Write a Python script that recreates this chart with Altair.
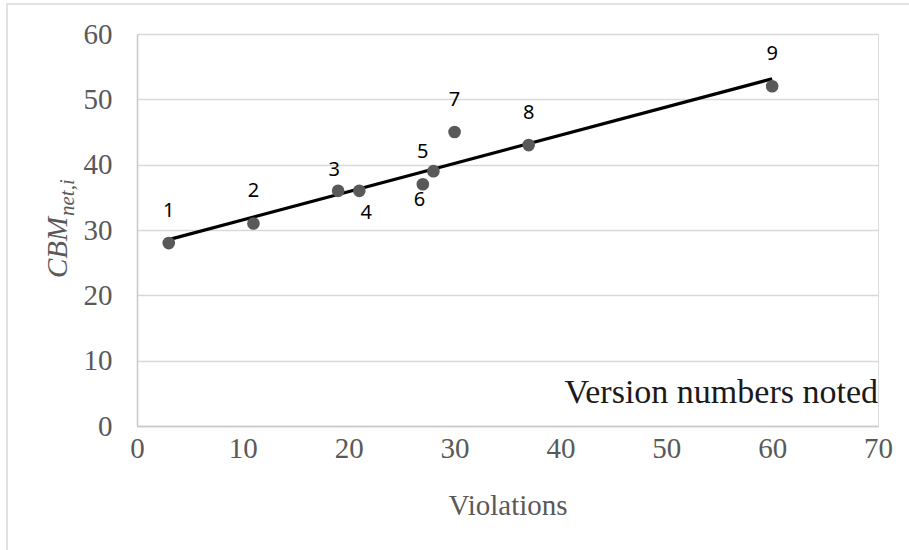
import altair as alt
import pandas as pd

# Version history: violations counted against the net CBM score
versions = [1, 2, 3, 4, 5, 6, 7, 8, 9]
violations = [3, 11, 19, 21, 27, 28, 30, 37, 60]
cbm_net = [28, 31, 36, 36, 37, 39, 45, 43, 52]
# which side of its point each version number is written on
label_side = ["above", "above", "above-close", "below-right", "above",
              "below-left", "above", "above", "above"]

x_ticks = [0, 10, 20, 30, 40, 50, 60, 70]
y_ticks = [0, 10, 20, 30, 40, 50, 60]

W, H = 741, 392
GREY_TEXT = "#595959"
SERIF = "Liberation Serif"

df = pd.DataFrame({
    "version": versions,
    "violations": violations,
    "cbm": cbm_net,
    "side": label_side,
})

x_enc = alt.X(
    "violations:Q",
    scale=alt.Scale(domain=[0, 70], nice=False),
    axis=alt.Axis(
        values=x_ticks, title="Violations", grid=False, ticks=False,
        domainColor="#c8c8c8", domainWidth=1.5, labelFlush=False,
        labelFont=SERIF, labelFontSize=29, labelColor=GREY_TEXT, labelPadding=8,
        titleFont=SERIF, titleFontSize=29, titleFontWeight="normal",
        titleColor=GREY_TEXT, titlePadding=28,
    ),
)
y_enc = alt.Y(
    "cbm:Q",
    scale=alt.Scale(domain=[0, 60], nice=False),
    axis=alt.Axis(
        values=y_ticks, title=None, grid=True, gridColor="#d9d9d9", gridWidth=1.5,
        ticks=False, domainColor="#c8c8c8", domainWidth=1.5, labelFlush=False,
        labelFont=SERIF, labelFontSize=29, labelColor=GREY_TEXT, labelPadding=25,
    ),
)

base = alt.Chart(df)

# thin frame around the whole chart
frame = alt.Chart(alt.Data(values=[{}])).mark_rect(
    fill=None, stroke="#d9d9d9", strokeWidth=1.5
).encode(
    x=alt.value(-130), x2=alt.value(W + 200),
    y=alt.value(-30), y2=alt.value(H + 300),
)

trend = base.mark_line(color="black", strokeWidth=3.2).transform_regression(
    "violations", "cbm"
).encode(x=x_enc, y=y_enc)

points = base.mark_circle(size=160, color=GREY_TEXT, opacity=1).encode(
    x=x_enc, y=y_enc
)

offsets = {
    "above": (0, -32),
    "above-close": (-4, -21),
    "below-right": (7, 22),
    "below-left": (-14, 29),
}
labels = [
    base.transform_filter(alt.datum.side == side).mark_text(
        font="Noto Sans", fontSize=20, color="black",
        baseline="middle", align="center", dx=dx, dy=dy,
    ).encode(x="violations:Q", y="cbm:Q", text="version:N")
    for side, (dx, dy) in offsets.items()
]

note = alt.Chart(alt.Data(values=[{}])).mark_text(
    text="Version numbers noted", font=SERIF, fontSize=34, color="#1a1a1a",
    align="right", baseline="alphabetic",
).encode(x=alt.value(W), y=alt.value(369))

# rotated y-axis title: italic CBM with a smaller subscript
cbm_title = alt.Chart(alt.Data(values=[{}])).mark_text(
    text="CBM", font=SERIF, fontSize=29, fontStyle="italic", color=GREY_TEXT,
    angle=270, align="left", baseline="alphabetic",
).encode(x=alt.value(-70), y=alt.value(244))
cbm_sub = alt.Chart(alt.Data(values=[{}])).mark_text(
    text="net,i", font=SERIF, fontSize=21, fontStyle="italic", color=GREY_TEXT,
    angle=270, align="left", baseline="alphabetic",
).encode(x=alt.value(-63), y=alt.value(182))

chart = alt.layer(
    frame, trend, points, *labels, note, cbm_title, cbm_sub
).properties(
    width=W, height=H,
    autosize=alt.AutoSizeParams(type="none"),
    padding={"left": 137, "top": 34, "right": 31, "bottom": 124},
).configure_view(stroke=None).configure(background="white")

chart.save("out.html", embed_options={"renderer": "svg", "actions": False})
